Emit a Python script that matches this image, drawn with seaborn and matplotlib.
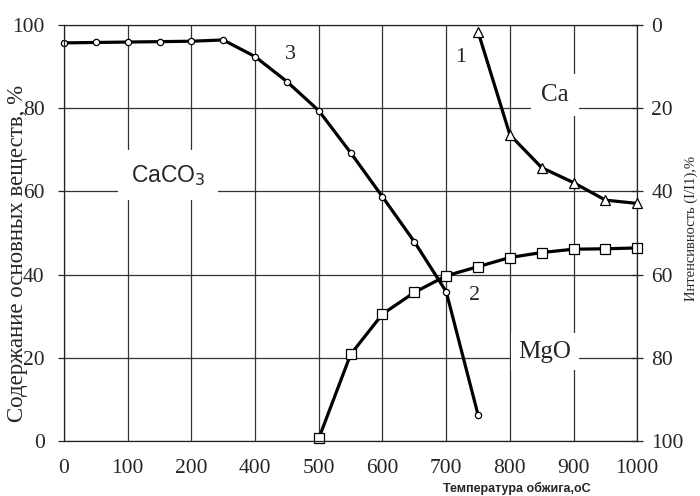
import numpy as np
import pandas as pd
import matplotlib
matplotlib.use('Agg')
import matplotlib.pyplot as plt
import seaborn as sns

# x axis of the original: gridlines labelled like this (note the uneven step)
tick_labels = ['0', '100', '200', '400', '500', '600', '700', '800', '900', '1000']
tick_temps = [0, 100, 200, 400, 500, 600, 700, 800, 900, 1000]

# curve 3 - CaCO3, left axis (%)
t_caco3 = [0, 50, 100, 150, 200, 300, 400, 450, 500, 550, 600, 650, 700, 750]
caco3 = [95.7, 95.8, 95.9, 96.0, 96.1, 96.4, 92.4, 86.4, 79.4, 69.3, 58.7, 47.9, 35.9, 6.3]

# curve 2 - MgO, left axis (%)
t_mgo = [500, 550, 600, 650, 700, 750, 800, 850, 900, 950, 1000]
mgo = [0.6, 20.8, 30.5, 35.7, 39.7, 41.9, 44.1, 45.3, 46.1, 46.2, 46.4]

# curve 1 - Ca, right axis (intensity, inverted)
t_ca = [750, 800, 850, 900, 950, 1000]
ca = [1.6, 26.4, 34.3, 37.9, 42.1, 42.9]

sns.set_style('white')
plt.rcParams['font.family'] = ['Liberation Serif', 'DejaVu Serif']


def pos(t):
    # place temperatures on the gridline positions of the original axis
    return np.interp(t, tick_temps, np.arange(len(tick_temps)))


fig = plt.figure(figsize=(7, 4.96), dpi=100)
ax = fig.add_axes([0.0914, 0.111, 0.819, 0.8386])

line_kw = dict(color='black', linewidth=2.3, markerfacecolor='white',
               markeredgecolor='black', markeredgewidth=0.9, clip_on=False)

df3 = pd.DataFrame({'x': pos(t_caco3), 'y': caco3})
df2 = pd.DataFrame({'x': pos(t_mgo), 'y': mgo})
df1 = pd.DataFrame({'x': pos(t_ca), 'y': ca})

sns.lineplot(data=df3, x='x', y='y', ax=ax, marker='o', markersize=4.5, **line_kw)
sns.lineplot(data=df2, x='x', y='y', ax=ax, marker='s', markersize=7, **line_kw)

ax.set_xlim(0, 9)
ax.set_ylim(0, 100)
ax.set_xticks(range(len(tick_labels)))
ax.set_xticklabels(tick_labels)
ax.set_yticks([0, 20, 40, 60, 80, 100])
ax.grid(True, color='#333333', linewidth=0.9)
ax.set_axisbelow(True)
for s in ax.spines.values():
    s.set_color('#222222')
    s.set_linewidth(0.9)
ax.tick_params(axis='both', direction='out', length=4, width=0.9, labelsize=15.5, color='#222222')
ax.tick_params(axis='y', pad=10)
ax.tick_params(axis='x', pad=9)

ax.set_ylabel('Содержание основных веществ, %', fontsize=16.5)
ax.yaxis.set_label_coords(-0.062, 0.45)
ax.set_xlabel('Температура обжига,оС', fontsize=9, fontweight='bold',
              family=['Liberation Sans', 'DejaVu Sans'])
ax.xaxis.set_label_coords(0.79, -0.098)

ax2 = ax.twinx()
sns.lineplot(data=df1, x='x', y='y', ax=ax2, marker='^', markersize=6.5, **line_kw)
ax2.set_ylim(100, 0)
ax2.set_yticks([0, 20, 40, 60, 80, 100])
ax2.set_xlim(0, 9)
ax2.tick_params(axis='y', direction='inout', length=8, width=0.9, labelsize=15.5, pad=6)
for s in ax2.spines.values():
    s.set_visible(False)
ax2.set_ylabel('Интенсивность (I/I1),%', fontsize=10.5, rotation=90, va='center')
ax2.yaxis.set_label_coords(1.095, 0.51)

ax.text(3.55, 92.8, '3', fontsize=16, ha='center', va='center', zorder=5)
ax.text(1.63, 63.9, 'CaCO$_3$', fontsize=16.5, ha='center', va='center', zorder=5,
        family=['Liberation Sans', 'DejaVu Sans'],
        bbox=dict(facecolor='white', edgecolor='none', boxstyle='square,pad=0.55'))
ax.text(6.23, 92.3, '1', fontsize=16, ha='center', va='center', zorder=5)
ax.text(7.71, 83.2, 'Ca', fontsize=18, ha='center', va='center', zorder=5,
        bbox=dict(facecolor='white', edgecolor='none', boxstyle='square,pad=0.4'))
ax.text(6.45, 34.9, '2', fontsize=16, ha='center', va='center', zorder=5)
ax.text(7.55, 21.4, 'MgO', fontsize=18, ha='center', va='center', zorder=5,
        bbox=dict(facecolor='white', edgecolor='none', boxstyle='square,pad=0.3'))

fig.savefig('out.png', dpi=100)
